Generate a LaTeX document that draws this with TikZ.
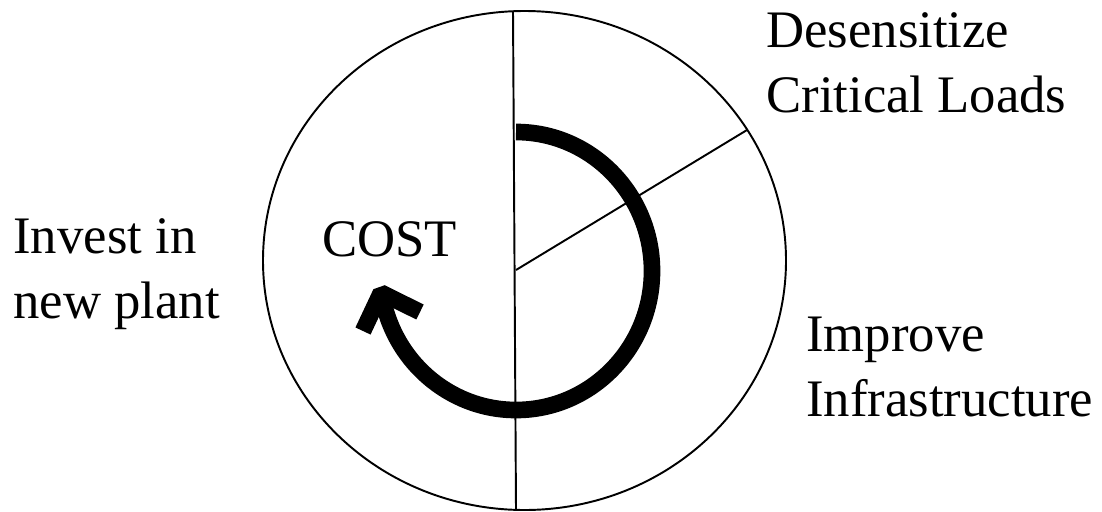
\documentclass[tikz,border=0pt]{standalone}
\usepackage{fontspec}
\setmainfont{Liberation Serif}
\usetikzlibrary{positioning}

\tikzset{
    thinline/.style={line width=1.1pt},
    loopline/.style={line width=9.5pt},
}

\begin{document}
\begin{tikzpicture}[x=0.02cm, y=-0.02cm, every node/.style={font=\fontsize{30pt}{36.85pt}\selectfont, inner sep=0pt, align=left}]
    \useasboundingbox (0,0) rectangle (1102,511);
    % wheel
    \draw[thinline] (524.5,260.5) ellipse [x radius=261.5, y radius=249.5];
    \coordinate (top) at (513,11);
    \coordinate (bottom) at (516,510);
    \coordinate (hub) at (516,270);
    \coordinate (rim) at (747,130);
    \draw[thinline] (top) -- (bottom);
    \draw[thinline] (hub) -- (rim);

    % loop with its head
    \coordinate (looptop) at (516,132);
    \coordinate (tip) at (381,292.7);
    \coordinate (barbl) at (363,331);
    \coordinate (barbr) at (420,312);
    \draw[loopline] (looptop) arc[start angle=-90, end angle=171, x radius=136, y radius=139];
    \draw[loopline, line join=bevel] (barbl) -- (tip) -- (barbr);

    \node[anchor=base west] (cost) at (322,256) {COST};
    \node[anchor=base west] (desens) at (766,112) {Desensitize\\Critical Loads};
    \node[anchor=base west] (invest) at (13,318) {Invest in\\new plant};
    \node[anchor=base west] (improve) at (806,416) {Improve\\Infrastructure};
\end{tikzpicture}
\end{document}
